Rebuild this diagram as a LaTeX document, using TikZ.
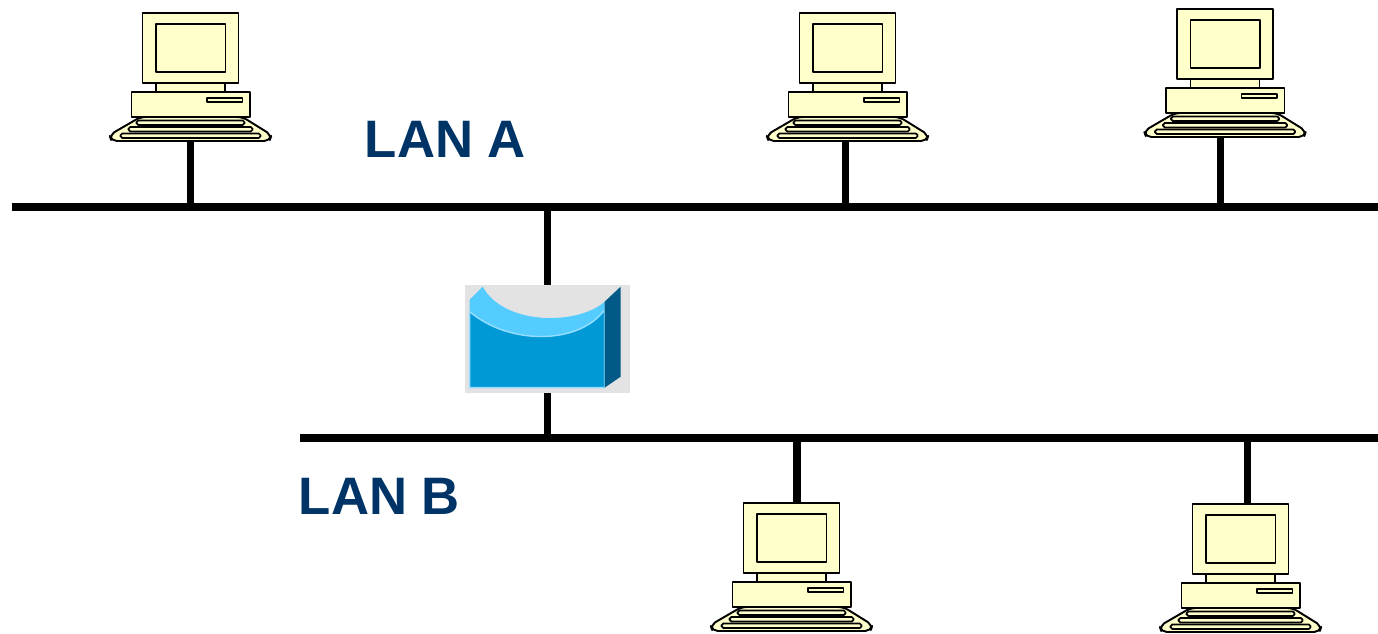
\documentclass[tikz,border=0pt]{standalone}
\usepackage{fontspec}
\newfontfamily\lanfont{Liberation Sans}
\usepackage{tikz}

\definecolor{pcfill}{RGB}{255,255,204}
\definecolor{lantext}{RGB}{0,51,102}
\definecolor{brgray}{RGB}{227,227,227}
\definecolor{brfront}{RGB}{0,153,214}
\definecolor{brband}{RGB}{85,204,255}
\definecolor{brside}{RGB}{0,90,133}
\definecolor{bredge}{RGB}{150,222,255}

\tikzset{
	bus/.style={line width=4pt},
	pcpart/.style={draw=black, fill=pcfill, line width=1.1pt, line join=round},
	lanlabel/.style={text=lantext, inner sep=0pt, font=\lanfont\fontsize{30}{36}\selectfont\bfseries},
	bridgebox/.style={fill=brgray, minimum width=3.3cm, minimum height=2.16cm, inner sep=0pt},
	computer/.pic={
		\draw[pcpart] (-48,0) rectangle (48,70);
		\draw[pcpart] (-34.5,11) rectangle (35,59);
		\draw[pcpart] (-34.5,70) rectangle (34.5,79);
		\draw[pcpart] (-59,79) rectangle (59.5,104);
		\draw[pcpart] (16.5,85) rectangle (52,89);
		\draw[pcpart, rounded corners=3pt] (-50,104) -- (52,104) -- (81,122) -- (79,128) -- (-79,128) -- (-81,122) -- cycle;
		\foreach \y/\w in {107.5/54, 114/62, 120.5/70}
			\draw[pcpart, line width=1pt, rounded corners=1pt] (-\w,\y) rectangle (\w,\y+4.5);
		\coordinate (-top) at (0,0);
		\coordinate (-plug) at (0,127);
	}
}

\begin{document}
\begin{tikzpicture}[x=0.02cm, y=-0.02cm]
	\useasboundingbox (0,0) rectangle (1378,634);
	\coordinate (busA-w) at (12,207);
	\coordinate (busA-e) at (1378,207);
	\coordinate (busB-w) at (300,438);
	\coordinate (busB-e) at (1378,438);
	%\draw[help lines] (0,0) grid[step=50] (1378,634);

	\draw[bus] (busA-w) -- (busA-e);
	\draw[bus] (busB-w) -- (busB-e);

	\node[bridgebox] (bridge) at (547.5,339) {};
	\draw[bus] (bridge.north) -- (bridge.north |- busA-w);
	\draw[bus] (bridge.south) -- (bridge.south |- busB-w);
	\begin{scope}[shift={(bridge.north west)}]
		\fill[brband] (5,15) -- (18,2) .. controls (40,42) and (115,40) .. (140,17) -- (140,25) .. controls (115,60) and (45,61) .. (5,27) -- cycle;
		\filldraw[fill=brfront, draw=bredge, line width=0.8pt] (5,27) .. controls (45,61) and (115,60) .. (140,25) -- (140,103) -- (5,103) -- cycle;
		\fill[brside] (140,17) -- (156,2) -- (156,92) -- (140,103) -- cycle;
	\end{scope}

	\pic (pcA) at (190.5,13) {computer};
	\pic (pcB) at (847.5,13) {computer};
	\pic (pcC) at (1225,9) {computer};
	\pic (pcD) at (791.5,503) {computer};
	\pic (pcE) at (1240.5,504) {computer};

	\draw[bus] (pcA-plug) -- (pcA-plug |- busA-w);
	\draw[bus] ([xshift=-0.05cm]pcB-plug) -- ([xshift=-0.05cm]pcB-plug |- busA-w);
	\draw[bus] ([xshift=-0.1cm]pcC-plug) -- ([xshift=-0.1cm]pcC-plug |- busA-w);
	\draw[bus] ([xshift=0.11cm]pcD-top) -- ([xshift=0.11cm]pcD-top |- busB-w);
	\draw[bus] ([xshift=0.13cm]pcE-top) -- ([xshift=0.13cm]pcE-top |- busB-w);

	\node[lanlabel] (lanA) at (445.5,139) {LAN A};
	\node[lanlabel] (lanB) at (379.5,496) {LAN B};
\end{tikzpicture}
\end{document}
